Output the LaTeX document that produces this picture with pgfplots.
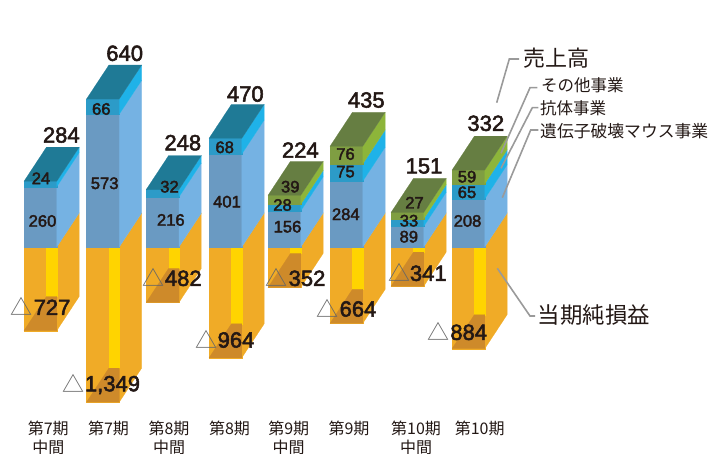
\documentclass[border=0pt]{standalone}
\usepackage{fontspec}
\usepackage{pgfplots}
\pgfplotsset{compat=1.18}
\newfontfamily\jp{Noto Sans CJK JP}
\newfontfamily\numf[FakeBold=2.4]{Liberation Sans}
\definecolor{ink}{HTML}{231815}
\definecolor{lead}{HTML}{9A9A9A}
\definecolor{orf}{HTML}{F0AB27}
\definecolor{yel}{HTML}{FFD400}
\definecolor{brn}{HTML}{CE8A2A}
\definecolor{blf}{HTML}{6A9AC2}
\definecolor{bls}{HTML}{75B2E3}
\definecolor{cyf}{HTML}{2C9BC8}
\definecolor{cys}{HTML}{1FB2E8}
\definecolor{tea}{HTML}{1F7A96}
\definecolor{grf}{HTML}{7F9E42}
\definecolor{grs}{HTML}{8DB53A}
\definecolor{olv}{HTML}{667E42}

% bar geometry, in page points: front width and oblique depth
\def\fw{32.8}
\def\dx{22.4}
% oblique rise expressed in data units of each axis
\def\dyup{146.8}
\def\dydn{296.2}

\newcommand\poly[2]{\addplot[fill=#1,draw=#1,line width=0.15pt] coordinates {#2} --cycle;}

% one block of the upper stack: left edge, lower value, height, front and side colours
\newcommand\block[5]{%
  \pgfmathsetmacro\xa{#1}\pgfmathsetmacro\xb{#1+\fw}\pgfmathsetmacro\xc{#1+\fw+\dx}%
  \pgfmathsetmacro\ya{#2}\pgfmathsetmacro\yb{#2+#3}%
  \pgfmathsetmacro\yc{#2+\dyup}\pgfmathsetmacro\yd{#2+#3+\dyup}%
  \poly{#4}{(\xa,\ya)(\xb,\ya)(\xb,\yb)(\xa,\yb)}%
  \poly{#5}{(\xb,\ya)(\xc,\yc)(\xc,\yd)(\xb,\yb)}%
}
% lid of a stack: left edge, top value, colour
\newcommand\lid[3]{%
  \pgfmathsetmacro\xa{#1}\pgfmathsetmacro\xb{#1+\fw}\pgfmathsetmacro\xc{#1+\fw+\dx}\pgfmathsetmacro\xd{#1+\dx}%
  \pgfmathsetmacro\ya{#2}\pgfmathsetmacro\yb{#2+\dyup}%
  \poly{#3}{(\xa,\ya)(\xb,\ya)(\xc,\yb)(\xd,\yb)}%
}
% open-topped loss bar below zero: left edge, loss
\newcommand\loss[2]{%
  \pgfmathsetmacro\xa{#1}\pgfmathsetmacro\xb{#1+\fw}\pgfmathsetmacro\xc{#1+\fw+\dx}\pgfmathsetmacro\xd{#1+\dx}%
  \pgfmathsetmacro\ya{-#2}\pgfmathsetmacro\yb{-#2+\dydn}%
  \poly{orf}{(\xa,0)(\xb,0)(\xb,\ya)(\xa,\ya)}%
  \poly{orf}{(\xb,0)(\xc,\dydn)(\xc,\yb)(\xb,\ya)}%
  \poly{yel}{(\xd,0)(\xb,0)(\xb,\yb)(\xd,\yb)}%
  \poly{brn}{(\xa,\ya)(\xb,\ya)(\xb,\yb)(\xd,\yb)}%
}
% stacks with and without the green part
\newcommand\stackblue[3]{%
  \block{#1}{0}{#2}{blf}{bls}%
  \block{#1}{#2}{#3}{cyf}{cys}%
  \pgfmathsetmacro\tp{#2+#3}\lid{#1}{\tp}{tea}%
}
\newcommand\stackgreen[4]{%
  \block{#1}{0}{#2}{blf}{bls}%
  \block{#1}{#2}{#3}{cyf}{cys}%
  \pgfmathsetmacro\tq{#2+#3}%
  \block{#1}{\tq}{#4}{grf}{grs}%
  \pgfmathsetmacro\tp{#2+#3+#4}\lid{#1}{\tp}{olv}%
}
% text placed by distance from the top of the page
\newcommand\lab[4][center]{\pgfmathsetmacro\ty{453-#3}\node[anchor=#1,inner sep=0pt,text=ink] at (#2,\ty) {#4};}
\newcommand\bigv[3]{\lab{#1}{#2}{\numf\fontsize{22}{22}\selectfont #3}}
\newcommand\smv[3]{\lab{#1}{#2}{\numf\fontsize{16.6}{17}\selectfont #3}}
\newcommand\tri[2]{\pgfmathsetmacro\ty{453-#2}\node[inner sep=0pt,text=black!60] at (#1,\ty) {\jp\fontsize{22}{22}\selectfont △};}

\pgfplotsset{base/.style={
  scale only axis, width=708pt, height=453pt, at={(0,0)}, anchor=south west,
  xmin=0, xmax=708, clip=false}}

\begin{document}
\begin{tikzpicture}[x=1pt,y=1pt]
\clip (0,0) rectangle (708,453);

% losses, on their own half-scale axis sharing the zero line
\begin{axis}[base, hide y axis, axis line style={draw=none},
  ymin=-1791.3, ymax=2147.8, ytick=\empty, major tick length=0pt,
  xtick={48.3,108.5,169,229.5,288.7,349,416,479.7},
  xticklabels={{第7期\\中間},第7期,{第8期\\中間},第8期,{第9期\\中間},第9期,{第10期\\中間},第10期},
  xticklabel style={anchor=north, align=center, yshift=35.5pt, text=ink,
    font=\jp\fontsize{16}{19}\selectfont}]
\loss{24}{727}
\loss{86.5}{1349}
\loss{146.2}{482}
\loss{209}{964}
\loss{268}{352}
\loss{330}{664}
\loss{391}{341}
\loss{452}{884}
\end{axis}

% sales by segment
\begin{axis}[base, hide axis, ymin=-889.5, ymax=1066.5]
\stackblue{24}{260}{24}
\stackblue{86.5}{573}{66}
\stackblue{146.2}{216}{32}
\stackblue{209}{401}{68}
\stackgreen{268}{156}{28}{39}
\stackgreen{330}{284}{75}{76}
\stackgreen{391}{89}{33}{27}
\stackgreen{452}{208}{65}{59}
\end{axis}

% totals
\bigv{61.3}{135}{284}
\bigv{124.7}{53.3}{640}
\bigv{182.8}{142.7}{248}
\bigv{245.3}{94}{470}
\bigv{300.3}{150}{224}
\bigv{366.3}{100}{435}
\bigv{424}{166}{151}
\bigv{485.8}{123.3}{332}

% segment values
\smv{41}{178.3}{24}
\smv{42.5}{221}{260}
\smv{101.3}{109}{66}
\smv{104.7}{183.3}{573}
\smv{169.5}{186.7}{32}
\smv{170.8}{220}{216}
\smv{224.7}{147.3}{68}
\smv{227}{201.7}{401}
\smv{290.3}{186.7}{39}
\smv{282.5}{205}{28}
\smv{287.5}{226.7}{156}
\smv{345.5}{154}{76}
\smv{345.5}{171.7}{75}
\smv{345.8}{214.3}{284}
\smv{414.5}{202.7}{27}
\smv{409}{220.7}{33}
\smv{408.8}{236.7}{89}
\smv{467}{176.7}{59}
\smv{467}{192.3}{65}
\smv{467.5}{221}{208}

% net losses
\tri{21.3}{306}\bigv{52}{307.3}{727}
\tri{73.3}{383}\bigv{112.5}{385}{1,349}
\tri{153.3}{277}\bigv{183.3}{278.3}{482}
\tri{206}{339}\bigv{236}{340}{964}
\tri{276.3}{277}\bigv{307}{278.3}{352}
\tri{327.7}{308}\bigv{358}{309}{664}
\tri{399.3}{272}\bigv{428.3}{273.3}{341}
\tri{438.7}{331}\bigv{468.7}{332.3}{884}

% leader lines and series names
\draw[lead,line width=1.6pt] (496.7,350.3)--(509.3,394)--(519,394);
\draw[lead,line width=1.6pt] (501,299.7)--(530,365.3)--(537.3,365.3);
\draw[lead,line width=1.6pt] (501,284.7)--(532.3,345.3)--(538.3,345.3);
\draw[lead,line width=1.6pt] (502.3,255.3)--(530.7,323)--(538.3,323);
\draw[lead,line width=1.6pt] (497.3,184.7)--(530,137)--(535,137);
\lab[west]{523.3}{58.3}{\jp\fontsize{22}{22}\selectfont 売上高}
\lab[west]{541}{85.7}{\jp\fontsize{16.5}{17}\selectfont その他事業}
\lab[west]{540}{108.3}{\jp\fontsize{16.5}{17}\selectfont 抗体事業}
\lab[west]{540}{130.7}{\jp\fontsize{16.8}{17}\selectfont 遺伝子破壊マウス事業}
\lab[west]{537.7}{315}{\jp\fontsize{22.4}{22}\selectfont 当期純損益}
\end{tikzpicture}
\end{document}
